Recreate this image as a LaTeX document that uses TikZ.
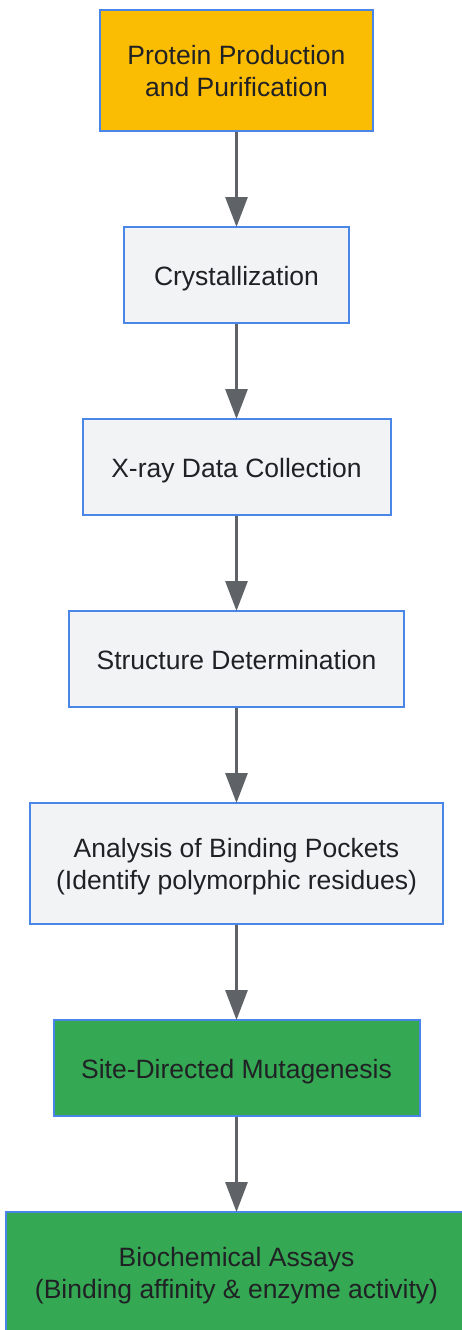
\documentclass[tikz,border=0pt]{standalone}
\usepackage{fontspec}
\setmainfont{Liberation Sans}
\usetikzlibrary{arrows.meta}
\definecolor{bordblue}{HTML}{4A86E8}
\definecolor{fillyellow}{HTML}{FBBC04}
\definecolor{fillgrey}{HTML}{F1F3F4}
\definecolor{fillgreen}{HTML}{34A853}
\definecolor{txt}{HTML}{202124}
\definecolor{arrowgrey}{HTML}{5F6368}
\tikzset{
  box/.style={draw=bordblue, line width=2pt, rectangle, inner sep=0pt, align=center,
    text=txt, font=\fontsize{26.5}{32}\selectfont, text height=22pt, text depth=2pt},
  twoline/.style={text height=54pt, text depth=2pt},
  arr/.style={draw=arrowgrey, line width=3pt, -{Triangle[length=30pt,width=22pt]}, shorten >=-1pt}
}
\begin{document}
\begin{tikzpicture}[x=1pt,y=-1pt]
\useasboundingbox (0,0) rectangle (462,1330);
\node[box, twoline, fill=fillyellow, minimum width=273pt, minimum height=121pt] (a) at (236.5,70.5) {Protein Production\\and Purification};
\node[box, fill=fillgrey, minimum width=225pt, minimum height=96pt] (b) at (236.5,275) {Crystallization};
\node[box, fill=fillgrey, minimum width=308pt, minimum height=96pt] (c) at (236.5,467) {X-ray Data Collection};
\node[box, fill=fillgrey, minimum width=335pt, minimum height=96pt] (d) at (236.5,659) {Structure Determination};
\node[box, twoline, fill=fillgrey, minimum width=413pt, minimum height=121pt] (e) at (236.5,863.5) {Analysis of Binding Pockets\\(Identify polymorphic residues)};
\node[box, fill=fillgreen, minimum width=366pt, minimum height=96pt] (f) at (236.5,1068) {Site-Directed Mutagenesis};
\node[box, twoline, fill=fillgreen, minimum width=462pt, minimum height=121pt] (g) at (236.5,1272.5) {Biochemical Assays\\(Binding affinity \& enzyme activity)};
\draw[arr] (a) -- (b);
\draw[arr] (b) -- (c);
\draw[arr] (c) -- (d);
\draw[arr] (d) -- (e);
\draw[arr] (e) -- (f);
\draw[arr] (f) -- (g);
\end{tikzpicture}
\end{document}
